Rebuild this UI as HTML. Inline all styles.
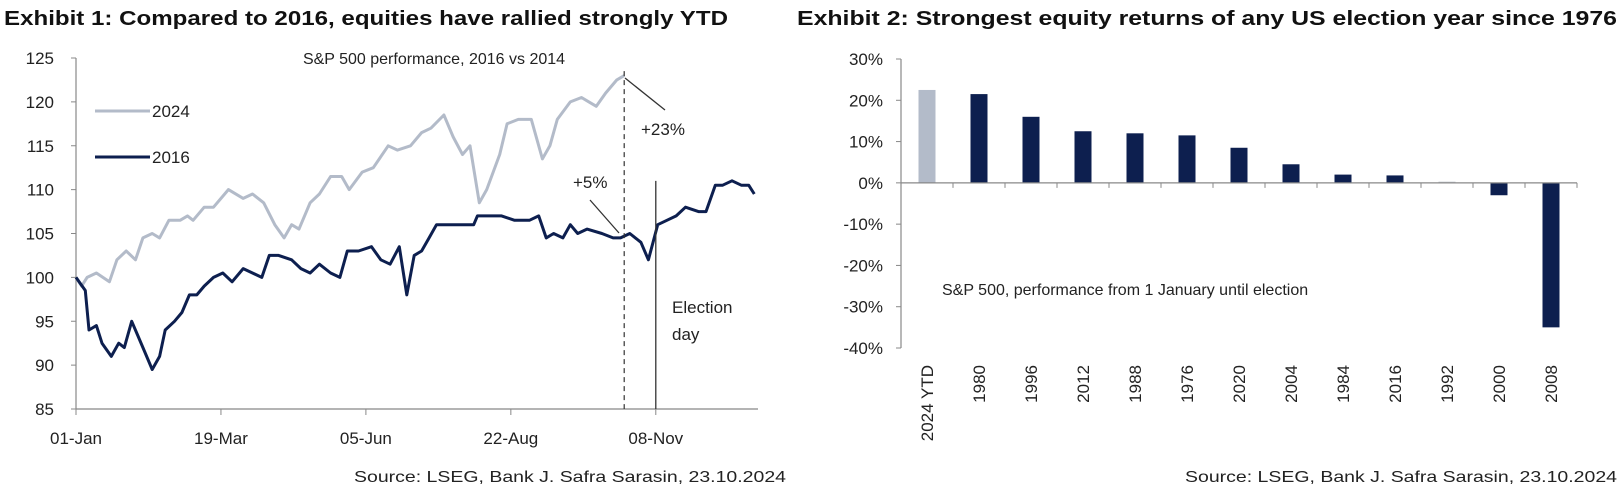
<!DOCTYPE html>
<html><head><meta charset="utf-8">
<style>
html,body{margin:0;padding:0;background:#fff;}
svg{display:block;font-family:"Liberation Sans",sans-serif;}
</style></head>
<body>
<svg id="root" width="1621" height="496" viewBox="0 0 1621 496" xmlns="http://www.w3.org/2000/svg">
<text x="4" y="25" font-size="20" font-weight="bold" fill="#111" textLength="724" lengthAdjust="spacingAndGlyphs">Exhibit 1: Compared to 2016, equities have rallied strongly YTD</text>
<text x="797" y="25" font-size="20" font-weight="bold" fill="#111" textLength="820" lengthAdjust="spacingAndGlyphs">Exhibit 2: Strongest equity returns of any US election year since 1976</text>
<g id="left"></g>
<g id="right"></g>
<text x="786" y="482" font-size="16" fill="#222" text-anchor="end" textLength="432" lengthAdjust="spacingAndGlyphs">Source: LSEG, Bank J. Safra Sarasin, 23.10.2024</text>
<text x="1617" y="482" font-size="16" fill="#222" text-anchor="end" textLength="432" lengthAdjust="spacingAndGlyphs">Source: LSEG, Bank J. Safra Sarasin, 23.10.2024</text>
</svg>
<script>
const NS="http://www.w3.org/2000/svg";
// ---- line chart data ----
const yTicks=[85,90,95,100,105,110,115,120,125];
const xTickLabels=["01-Jan","19-Mar","05-Jun","22-Aug","08-Nov"];
const xTickDays=[0,78,156,234,312];
const days2016=[0,5,7,11,14,19,23,26,30,33,37,41,45,48,53,57,61,65,69,74,79,84,90,95,100,104,109,116,121,126,131,137,142,146,152,159,164,169,174,178,182,186,190,194,201,207,214,216,223,229,236,244,249,253,257,262,266,270,275,283,289,293,298,304,308,313,318,323,328,335,339,344,348,353,358,362,365];
const vals2016=[100,98.5,94,94.5,92.5,91,92.5,92,95,93.5,91.5,89.5,91,94,95,96,98,98,99,100,100.5,99.5,101,100.5,100,102.5,102.5,102,101,100.5,101.5,100.5,100,103,103,103.5,102,101.5,103.5,98,102.5,103,104.5,106,106,106,106,107,107,107,106.5,106.5,107,104.5,105,104.5,106,105,105.5,105,104.5,104.5,105,104,102,106,106.5,107,108,107.5,107.5,110.5,110.5,111,110.5,110.5,109.5];
const days2024=[0,3,6,11,18,22,27,32,36,41,45,50,56,60,63,69,74,82,90,95,101,107,112,116,120,124,126,131,137,143,147,154,160,168,173,180,186,191,198,203,208,212,217,221,228,232,238,245,251,255,259,266,272,276,280,285,291,295];
const vals2024=[100,99,100,100.5,99.5,102,103,102,104.5,105,104.5,106.5,106.5,107,106.5,108,108,110,109,109.5,108.5,106,104.5,106,105.5,107.5,108.5,109.5,111.5,111.5,110,112,112.5,115,114.5,115,116.5,117,118.5,116,114,115,108.5,110,114,117.5,118,118,113.5,115,118,120,120.5,120,119.5,121,122.5,123];
// ---- bar chart data ----
const barCats=["2024 YTD","1980","1996","2012","1988","1976","2020","2004","1984","2016","1992","2000","2008"];
const barVals=[22.5,21.5,16,12.5,12,11.5,8.5,4.5,2,1.8,0.3,-3,-35];
const barTicks=[30,20,10,0,-10,-20,-30,-40];

function el(tag,attrs,parent,text){const e=document.createElementNS(NS,tag);for(const k in attrs)e.setAttribute(k,attrs[k]);if(text!==undefined)e.textContent=text;parent.appendChild(e);return e;}

// left axes
const L=document.getElementById('left');
const x0=76,x1=758,dayMax=367,y85=409,y125=58;
const X=d=>x0+(d/dayMax)*(x1-x0);
const Y=v=>y85-(v-85)/40*(y85-y125);
let ax=el('line',{x1:x0,y1:y125,x2:x0,y2:y85,stroke:'#888','stroke-width':1.2},L);

let bx=el('line',{x1:x0,y1:y85,x2:x1,y2:y85,stroke:'#888','stroke-width':1.2},L);

yTicks.forEach(v=>{
  el('line',{x1:x0-5,y1:Y(v),x2:x0,y2:Y(v),stroke:'#888'},L);
  const t=el('text',{x:54,y:Y(v)+6,'font-size':17,'text-anchor':'end',fill:'#222'},L,String(v));
  
});
xTickDays.forEach((d,i)=>{
  el('line',{x1:X(d),y1:y85,x2:X(d),y2:y85+6,stroke:'#888'},L);
  const t=el('text',{x:X(d),y:444,'font-size':17,'text-anchor':'middle',fill:'#222'},L,xTickLabels[i]);
  
});
function pts(ds,vs){return ds.map((d,i)=>X(d).toFixed(1)+','+Y(vs[i]).toFixed(1)).join(' ');}
let l24=el('polyline',{points:pts(days2024,vals2024),fill:'none',stroke:'#b3bbc9','stroke-width':3,'stroke-linejoin':'round'},L);

let l16=el('polyline',{points:pts(days2016,vals2016),fill:'none',stroke:'#0d1f4f','stroke-width':3,'stroke-linejoin':'round'},L);

// annotation lines
let dl=el('line',{x1:X(295),y1:Y(123.5),x2:X(295),y2:y85,stroke:'#333','stroke-width':1.2,'stroke-dasharray':'5,4'},L);

let ed=el('line',{x1:X(312),y1:Y(111),x2:X(312),y2:y85,stroke:'#333','stroke-width':1.3},L);

el('line',{x1:625,y1:78,x2:665,y2:110,stroke:'#333','stroke-width':1.3},L);
el('line',{x1:590,y1:200,x2:619,y2:233,stroke:'#333','stroke-width':1.3},L);
let a1=el('text',{x:641,y:135,'font-size':17,fill:'#222'},L,'+23%');

let a2=el('text',{x:573,y:188,'font-size':17,fill:'#222'},L,'+5%');

let e1=el('text',{x:672,y:313,'font-size':17,fill:'#222'},L,'Election');

el('text',{x:672,y:340,'font-size':17,fill:'#222'},L,'day');
let st=el('text',{x:434,y:64,'font-size':16,'text-anchor':'middle',fill:'#222'},L,'S&P 500 performance, 2016 vs 2014');

el('line',{x1:95,y1:111,x2:150,y2:111,stroke:'#b3bbc9','stroke-width':3},L);
let lg1=el('text',{x:152,y:117,'font-size':17,fill:'#222'},L,'2024');

el('line',{x1:95,y1:157,x2:150,y2:157,stroke:'#0d1f4f','stroke-width':3},L);
let lg2=el('text',{x:152,y:163,'font-size':17,fill:'#222'},L,'2016');


// right bar chart
const R=document.getElementById('right');
const bx0=901,bx1=1577,yTop=59,yBot=348;
const BY=v=>yTop+(30-v)/70*(yBot-yTop);
const cw=(bx1-bx0)/barCats.length;
let ry=el('line',{x1:bx0,y1:yTop,x2:bx0,y2:yBot,stroke:'#888','stroke-width':1.2},R);

barTicks.forEach(v=>{
  el('line',{x1:bx0-5,y1:BY(v),x2:bx0,y2:BY(v),stroke:'#888'},R);
  const t=el('text',{x:883,y:BY(v)+6,'font-size':17,'text-anchor':'end',fill:'#222'},R,v+'%');
  
});
barCats.forEach((c,i)=>{
  const cx=bx0+cw*(i+0.5), v=barVals[i];
  const y=Math.min(BY(v),BY(0)), h=Math.abs(BY(v)-BY(0));
  const r=el('rect',{x:cx-8.5,y:y,width:17,height:Math.max(h,0.8),fill:i===0?'#b3bbc9':(Math.abs(v)<0.5?'#c8ccd4':'#0d1f4f')},R);
  
  
  el('line',{x1:bx0+cw*(i+1),y1:BY(0),x2:bx0+cw*(i+1),y2:BY(0)+5,stroke:'#888'},R);
  const t=el('text',{x:0,y:0,'font-size':17,'text-anchor':'end',fill:'#222',transform:`translate(${cx+6},${365}) rotate(-90)`},R,c);
  
});
let rx=el('line',{x1:bx0,y1:BY(0),x2:bx1,y2:BY(0),stroke:'#888','stroke-width':1.2},R);

let rn=el('text',{x:942,y:295,'font-size':16,fill:'#222'},R,'S&P 500, performance from 1 January until election');

</script>
</body></html>
